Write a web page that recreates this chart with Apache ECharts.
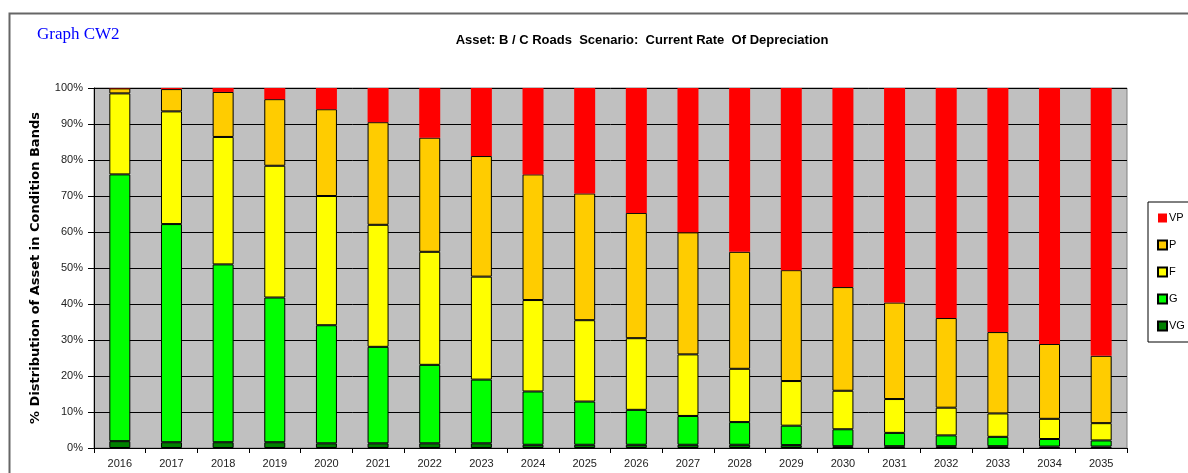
<!DOCTYPE html>
<html>
<head>
<meta charset="utf-8">
<script src="https://cdn.jsdelivr.net/npm/echarts@6/dist/echarts.min.js"></script>
<style>html,body{margin:0;padding:0;background:#fff;}#c{width:1188px;height:473px;}</style>
</head>
<body>
<div id="c"></div>
<script>
const years = ['2016','2017','2018','2019','2020','2021','2022','2023','2024','2025','2026','2027','2028','2029','2030','2031','2032','2033','2034','2035'];
const VG = [1.9,1.6,1.6,1.6,1.3,1.3,1.3,1.3,0.9,0.9,0.9,0.9,0.9,0.8,0.5,0.5,0.5,0.5,0.4,0.4];
const G  = [74.1,60.6,49.4,40.2,32.8,26.8,21.8,17.7,14.8,12.0,9.7,8.0,6.3,5.4,4.7,3.7,3.0,2.6,2.1,1.7];
const F  = [22.5,31.3,35.4,36.6,35.9,33.9,31.4,28.6,25.4,22.6,19.9,17.1,14.8,12.4,10.7,9.4,7.7,6.5,5.6,4.8];
const P  = [1.4,6.2,12.5,18.5,24.1,28.5,31.7,33.5,34.9,35.2,34.8,33.9,32.5,30.8,28.8,26.8,24.9,22.6,20.8,18.7];
const VP = [0.1,0.3,1.1,3.1,5.9,9.5,13.8,18.9,24.0,29.3,34.7,40.1,45.5,50.6,55.3,59.6,63.9,67.8,71.1,74.4];
const yTicks = [0,10,20,30,40,50,60,70,80,90,100];

const chart = echarts.init(document.getElementById('c'));
function s(name, data, color, border) {
  return {
    name: name, type: 'bar', stack: 'all', data: data, barWidth: 21,
    itemStyle: { color: color, borderColor: border ? '#000' : color, borderWidth: border ? 1 : 0 },
    emphasis: { disabled: true }
  };
}
chart.setOption({
  animation: false,
  backgroundColor: '#fff',
  graphic: [{
    type: 'rect', left: 7, top: 11, silent: true,
    shape: { x: 0, y: 0, width: 1300, height: 520 },
    style: { fill: 'none', stroke: '#666', lineWidth: 2 }
  }],
  title: [
    { text: 'Graph CW2', left: 32, top: 21,
      textStyle: { fontFamily: 'Liberation Serif', fontSize: 17, fontWeight: 'normal', color: '#0000ff' } },
    { text: 'Asset: B / C Roads  Scenario:  Current Rate  Of Depreciation', left: 637, textAlign: 'center', top: 29,
      textStyle: { fontFamily: 'Liberation Sans', fontSize: 13, fontWeight: 'bold', color: '#000' } }
  ],
  legend: {
    orient: 'vertical', left: 1148, top: 202,
    data: ['VP','P','F','G','VG'],
    itemWidth: 9, itemHeight: 9, itemGap: 13,
    backgroundColor: '#fff', borderColor: '#000', borderWidth: 1, borderRadius: 0,
    padding: [9, 30, 9, 9],
    icon: 'rect',
    textStyle: { fontFamily: 'Liberation Sans', fontSize: 11, color: '#000', padding: [0,0,0,-3], lineHeight: 14 },
    selectedMode: false
  },
  grid: {
    left: 94, right: 61, top: 88, bottom: 25,
    show: true, backgroundColor: '#c0c0c0', borderColor: '#808080', borderWidth: 1
  },
  xAxis: {
    type: 'category', data: years,
    axisLine: { lineStyle: { color: '#000', width: 1 } },
    axisTick: { show: true, length: 5, lineStyle: { color: '#000' } },
    axisLabel: { fontFamily: 'Liberation Sans', fontSize: 11, color: '#222', margin: 10 }
  },
  yAxis: {
    type: 'value', min: 0, max: 100, interval: 10,
    name: '% Distribution of Asset in Condition Bands',
    nameLocation: 'middle', nameGap: 52, nameRotate: 90,
    nameTextStyle: { fontFamily: 'DejaVu Sans', fontSize: 13, fontWeight: 'bold', color: '#000' },
    axisLine: { show: true, lineStyle: { color: '#000', width: 1 } },
    axisTick: { show: true, length: 6, lineStyle: { color: '#000' } },
    axisLabel: { fontFamily: 'Liberation Sans', fontSize: 11, color: '#222', margin: 11,
      formatter: function (v) { return yTicks.indexOf(v) >= 0 ? v + '%' : ''; } },
    splitLine: { show: true, lineStyle: { color: '#000', width: 1 } }
  },
  series: [
    s('VG', VG, '#008000', true),
    s('G', G, '#00ff00', true),
    s('F', F, '#ffff00', true),
    s('P', P, '#ffcc00', true),
    s('VP', VP, '#ff0000', false)
  ]
});
</script>
</body>
</html>
